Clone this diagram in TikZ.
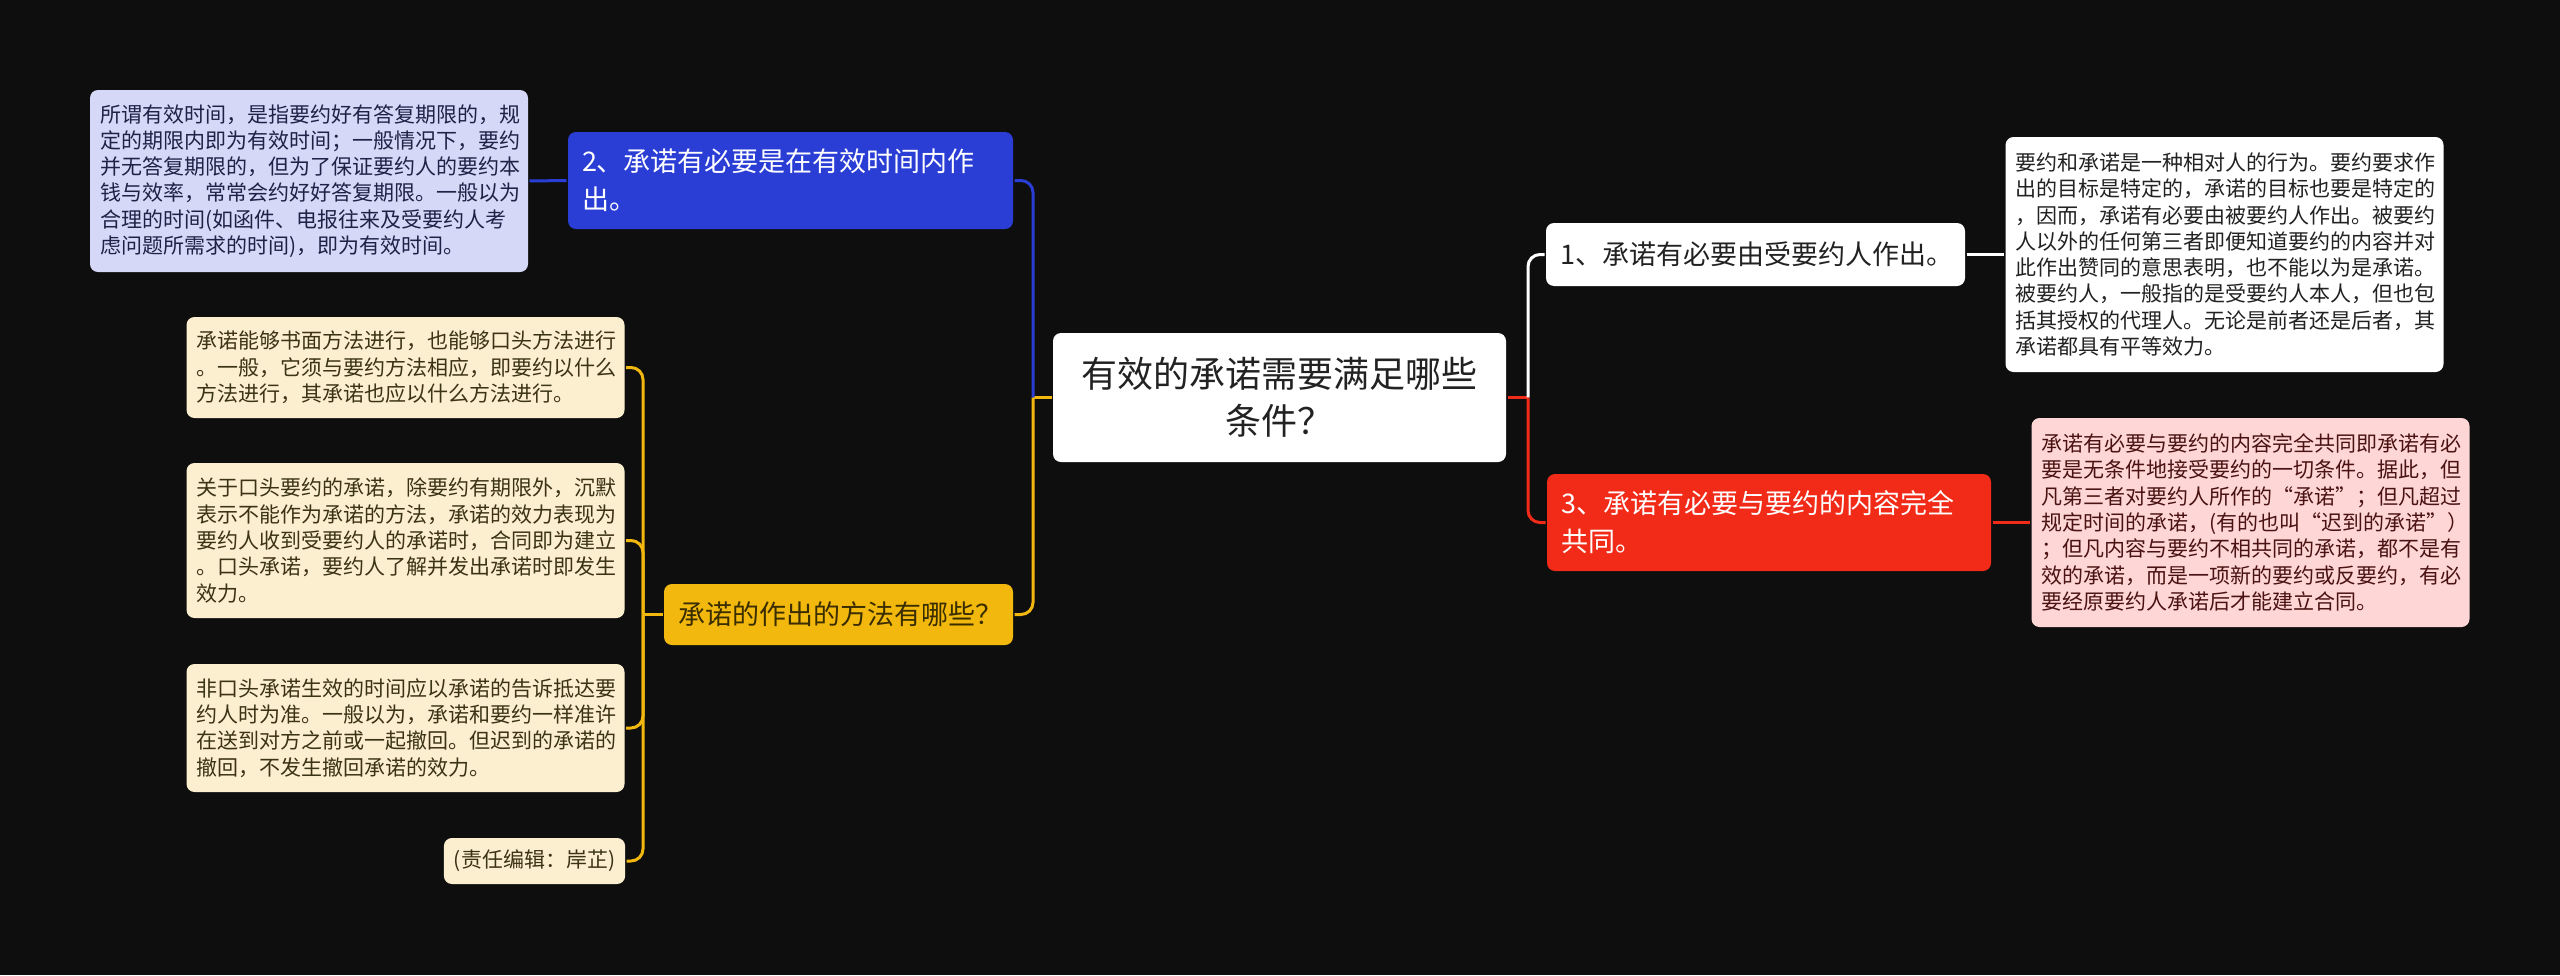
\documentclass[tikz,border=0pt]{standalone}
\usepackage{fontspec}
\setmainfont{Noto Sans CJK SC}
\definecolor{bgcol}{HTML}{0E0E0E}
\definecolor{bluefill}{HTML}{2A3ED6}
\definecolor{lilac}{HTML}{D5D8F6}
\definecolor{lilactext}{HTML}{1E2246}
\definecolor{yellowfill}{HTML}{F2B80E}
\definecolor{yellowtext}{HTML}{3A2D00}
\definecolor{cream}{HTML}{FCEFCF}
\definecolor{creamtext}{HTML}{3B3315}
\definecolor{redfill}{HTML}{F22A18}
\definecolor{pink}{HTML}{FDD6D5}
\definecolor{pinktext}{HTML}{4A1212}
\definecolor{darktext}{HTML}{222222}
\begin{document}
\begin{tikzpicture}[x=.5pt, y=-.5pt, line width=1.5pt,
		card/.style={rounded corners=4pt, inner xsep=5pt, inner ysep=0pt, align=left},
		leaf/.style={card, text width=209pt, minimum height=#1, font=\fontsize{10.5}{13.15}\selectfont},
		branch/.style={card, inner xsep=7pt, font=\fontsize{13.5}{19}\selectfont},
		link/.style={rounded corners=6pt}]
			\fill[bgcol] (0,0) rectangle (2560,975);
			\useasboundingbox (0,0) rectangle (2560,975);
			% centre
			\node[card, fill=white, text=darktext, align=center, minimum width=226.5pt, minimum height=64.5pt, font=\fontsize{18}{23.5}\selectfont] (title) at (1279.5,397.5) {有效的承诺需要满足哪些\\条件？};
			% left side
			\node[branch, fill=bluefill, text=white, text width=208.5pt, minimum height=48.5pt] (b2) at (790.5,180.5) {2、承诺有必要是在有效时间内作\\出。};
			\node[branch, fill=yellowfill, text=yellowtext, text width=160.5pt, minimum height=30.5pt] (by) at (838.5,614.5) {承诺的作出的方法有哪些？};
			\node[leaf=91pt, fill=lilac, text=lilactext] (tb) at (309,181) {所谓有效时间，是指要约好有答复期限的，规\\定的期限内即为有效时间；一般情况下，要约\\并无答复期限的，但为了保证要约人的要约本\\钱与效率，常常会约好好答复期限。一般以为\\合理的时间(如函件、电报往来及受要约人考\\虑问题所需求的时间)，即为有效时间。};
			\node[leaf=50.5pt, fill=cream, text=creamtext] (ya) at (405.5,367.5) {承诺能够书面方法进行，也能够口头方法进行\\。一般，它须与要约方法相应，即要约以什么\\方法进行，其承诺也应以什么方法进行。};
			\node[leaf=77.5pt, fill=cream, text=creamtext] (yb) at (405.5,540.5) {关于口头要约的承诺，除要约有期限外，沉默\\表示不能作为承诺的方法，承诺的效力表现为\\要约人收到受要约人的承诺时，合同即为建立\\。口头承诺，要约人了解并发出承诺时即发生\\效力。};
			\node[leaf=64pt, fill=cream, text=creamtext] (yc) at (405.5,728) {非口头承诺生效的时间应以承诺的告诉抵达要\\约人时为准。一般以为，承诺和要约一样准许\\在送到对方之前或一起撤回。但迟到的承诺的\\撤回，不发生撤回承诺的效力。};
			\node[card, fill=cream, text=creamtext, align=center, minimum width=90.5pt, minimum height=23pt, font=\fontsize{10.5}{13.15}\selectfont] (yd) at (534.5,861) {(责任编辑：岸芷)};
			% right side
			\node[branch, fill=white, text=darktext, text width=195.5pt, minimum height=31.5pt] (b1) at (1755.5,254.5) {1、承诺有必要由受要约人作出。};
			\node[branch, fill=redfill, text=white, text width=208pt, minimum height=48.5pt] (b3) at (1769,522.5) {3、承诺有必要与要约的内容完全\\共同。};
			\node[leaf=117.5pt, fill=white, text=darktext] (tw) at (2224.5,254.5) {要约和承诺是一种相对人的行为。要约要求作\\出的目标是特定的，承诺的目标也要是特定的\\，因而，承诺有必要由被要约人作出。被要约\\人以外的任何第三者即便知道要约的内容并对\\此作出赞同的意思表明，也不能以为是承诺。\\被要约人，一般指的是受要约人本人，但也包\\括其授权的代理人。无论是前者还是后者，其\\承诺都具有平等效力。};
			\node[leaf=104.5pt, fill=pink, text=pinktext] (tr) at (2250.5,522.5) {承诺有必要与要约的内容完全共同即承诺有必\\要是无条件地接受要约的一切条件。据此，但\\凡第三者对要约人所作的“承诺”；但凡超过\\规定时间的承诺，(有的也叫“迟到的承诺”）\\；但凡内容与要约不相共同的承诺，都不是有\\效的承诺，而是一项新的要约或反要约，有必\\要经原要约人承诺后才能建立合同。};
			% connectors
			\coordinate (jl) at (1033,397.5);
			\coordinate (jr) at (1528,397.5);
			\coordinate (jy) at (643,614.5);
			\draw[yellowfill] (title.west) -- (jl);
			\draw[link, bluefill] (jl) |- (b2.east);
			\draw[link, yellowfill] (jl) |- (by.east);
			\draw[bluefill] (b2.west) -- (tb.east);
			\draw[yellowfill] (by.west) -- (jy);
			\foreach \n in {ya, yb, yc, yd} {
				\draw[link, yellowfill] (jy) |- (\n.east);
			}
			\draw[redfill] (title.east) -- (jr);
			\draw[link, white] (jr) |- (b1.west);
			\draw[link, redfill] (jr) |- (b3.west);
			\draw[white] (b1.east) -- (tw.west);
			\draw[redfill] (b3.east) -- (tr.west);
\end{tikzpicture}
\end{document}
